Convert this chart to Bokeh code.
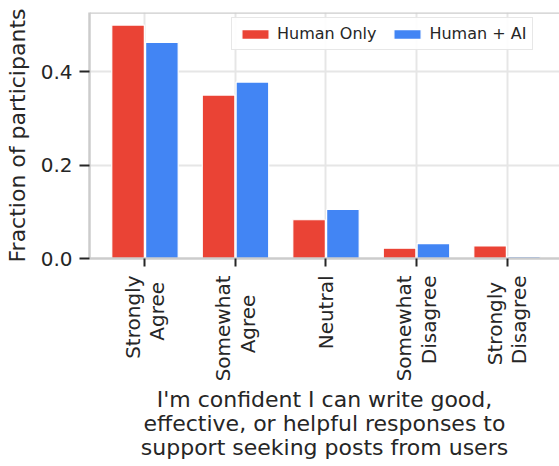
import math
from bokeh.plotting import figure
from bokeh.models import Range1d, FixedTicker, Legend, LegendItem, ColumnDataSource, Span
from bokeh.transform import dodge
from bokeh.embed import file_html
from bokeh.resources import INLINE

NB = "\u00a0"
categories = ["Strongly\nAgree", "Somewhat\nAgree", "Neutral", "Somewhat\nDisagree", "Strongly\nDisagree"]
# small padding to center the shorter line of each rotated label
label_pads = [(0, 1), (0, 3), (0, 0), (0, 0), (1, 0)]
human_only = [0.500, 0.350, 0.083, 0.022, 0.027]
human_ai = [0.463, 0.378, 0.105, 0.032, 0.004]
y_ticks = [0.0, 0.2, 0.4]
y_tick_labels = ["0.0", "0.2", "0.4"]
series_names = ["Human Only", "Human + AI"]
colors = ["#EA4335", "#4285F4"]
x_title = "I'm confident I can write good,\neffective, or helpful responses to\nsupport seeking posts from users"
y_title = "Fraction of participants"

FONT = "DejaVu Sans"
TXT = "#262626"
AX = "#cccccc"
X_START, X_END = -0.613, 4.58
Y_END = 0.527

idx = list(range(len(categories)))
src = ColumnDataSource(dict(x=idx, ho=human_only, ai=human_ai))


def padded(label, pads):
    lines = label.split("\n")
    return "\n".join(l + NB * n for l, n in zip(lines, pads))


p = figure(width=559, height=466,
           x_range=Range1d(X_START, X_END), y_range=Range1d(0, Y_END),
           output_backend="svg", toolbar_location=None,
           min_border_left=89, min_border_top=12, min_border_right=0,
           min_border_bottom=208)

r1 = p.vbar(x=dodge("x", -0.187), top="ho", width=0.36, source=src,
            fill_color=colors[0], line_color="white", line_width=1.2)
r2 = p.vbar(x=dodge("x", 0.187), top="ai", width=0.36, source=src,
            fill_color=colors[1], line_color="white", line_width=1.2)

# axes
p.xaxis.ticker = FixedTicker(ticks=idx)
p.xaxis.major_label_overrides = {i: padded(c, pd) for i, c, pd in zip(idx, categories, label_pads)}
p.xaxis.major_label_orientation = math.pi / 2
p.yaxis.ticker = FixedTicker(ticks=y_ticks)
p.yaxis.major_label_overrides = {t: l for t, l in zip(y_ticks, y_tick_labels)}

for ax in (p.xaxis[0], p.yaxis[0]):
    ax.axis_line_color = AX
    ax.axis_line_width = 2.5
    ax.major_tick_line_color = TXT
    ax.major_tick_line_width = 2
    ax.major_tick_in = 0
    ax.minor_tick_line_color = None
    ax.major_label_text_font = FONT
    ax.major_label_text_color = TXT
    ax.major_label_text_font_size = "20px"
    ax.axis_label_text_font = FONT
    ax.axis_label_text_color = TXT
    ax.axis_label_text_font_size = "22px"
    ax.axis_label_text_font_style = "normal"

p.yaxis.major_tick_out = 10
p.yaxis.major_label_standoff = 7
p.yaxis.axis_label = y_title
p.yaxis.axis_label_standoff = 8

p.xaxis.major_tick_out = 8
p.xaxis.major_label_standoff = 9
p.xaxis.major_label_text_line_height = 1.03
p.xaxis.axis_label = x_title
p.xaxis.axis_label_text_line_height = 0.95
p.xaxis.axis_label_standoff = 3

p.xgrid.ticker = FixedTicker(ticks=idx)
p.ygrid.ticker = FixedTicker(ticks=y_ticks)
p.grid.grid_line_color = "#e6e6e6"
p.grid.grid_line_width = 2

p.outline_line_color = None
p.add_layout(Span(location=Y_END, dimension="width", line_color=AX, line_width=2.5))
p.background_fill_color = "white"
p.border_fill_color = "white"

legend = Legend(items=[LegendItem(label=series_names[0], renderers=[r1]),
                       LegendItem(label=series_names[1], renderers=[r2])],
                orientation="horizontal", location=(142, 208),
                padding=6, spacing=14, label_standoff=5, margin=0,
                glyph_width=34, glyph_height=12, label_height=16,
                label_text_font=FONT, label_text_font_size="16px",
                label_text_color=TXT,
                border_line_color="#d0d0d0", border_line_width=1.5,
                background_fill_alpha=0.9)
p.add_layout(legend)

open("out.html", "w").write(file_html(p, INLINE))
